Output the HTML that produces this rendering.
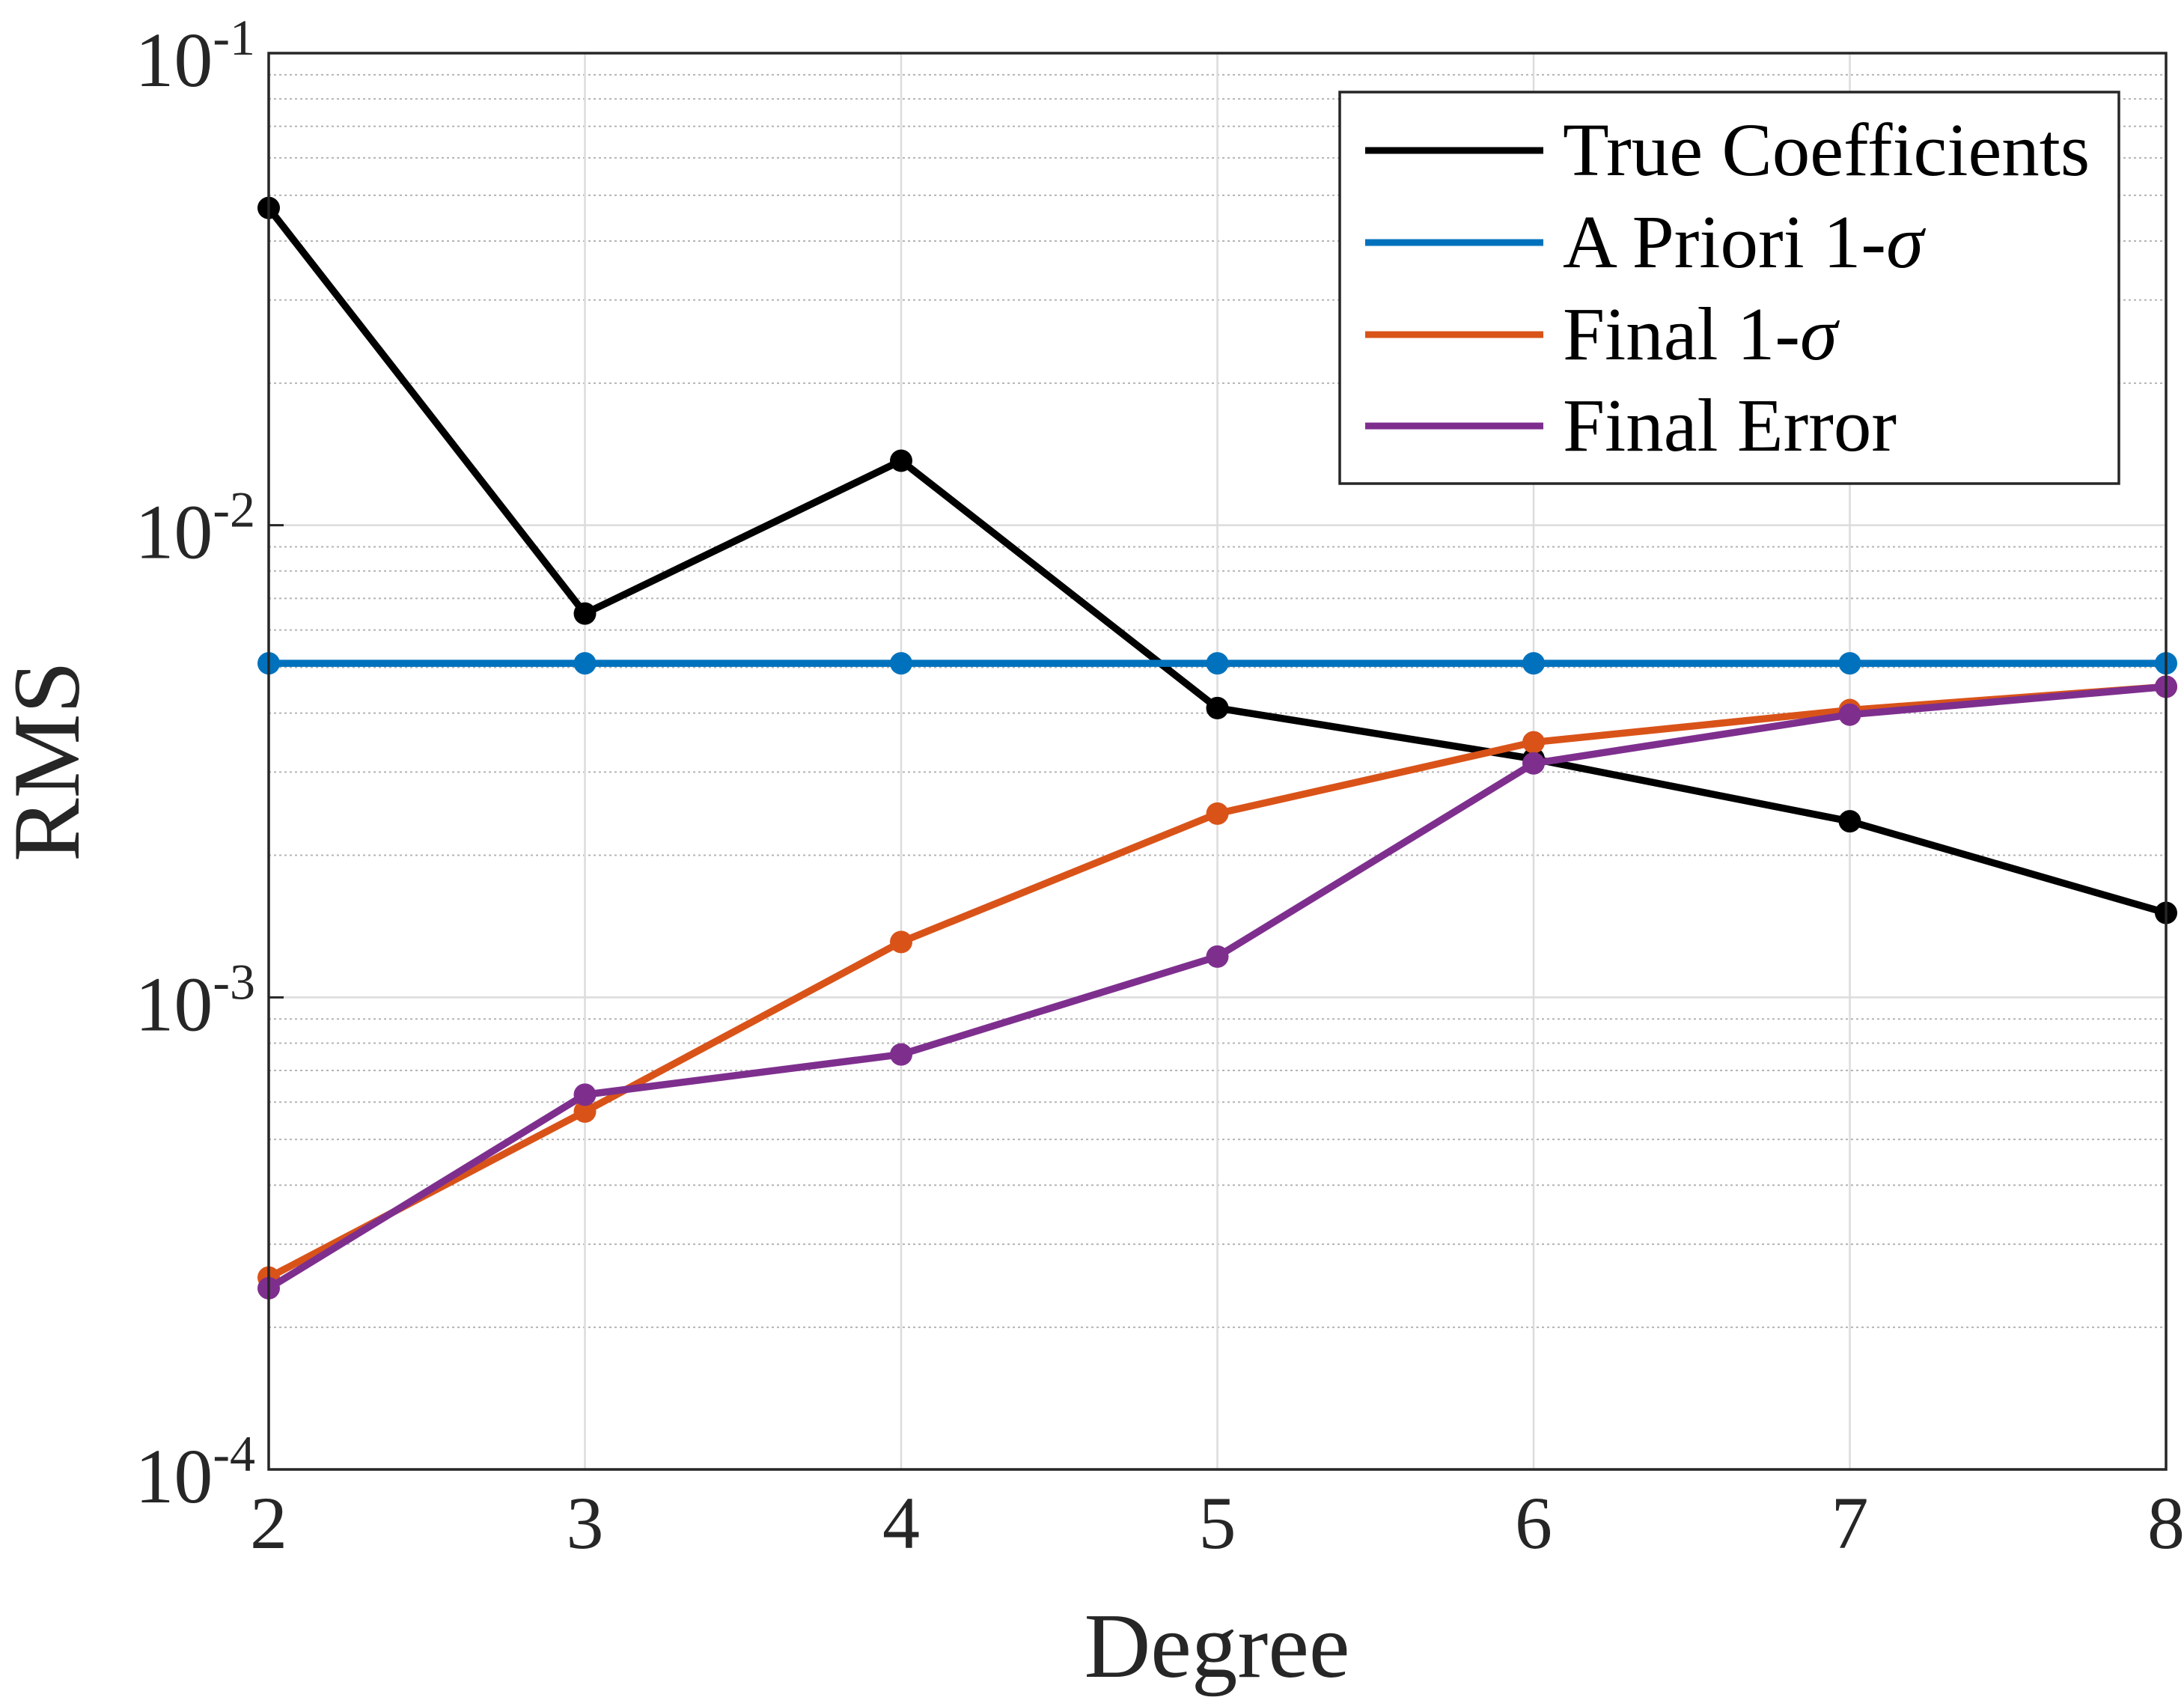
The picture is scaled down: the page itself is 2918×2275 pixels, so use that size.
<!DOCTYPE html>
<html><head><meta charset="utf-8"><style>
body{margin:0;background:#fff}
svg{display:block;font-family:"Liberation Serif",serif}
</style></head><body>
<svg id="chart" width="2918" height="2275" viewBox="0 0 2918 2275" xmlns="http://www.w3.org/2000/svg">
<rect width="2918" height="2275" fill="#fff"/>
<g id="grid"></g>
<g id="series"></g>
<g id="axes"></g>
<text transform="translate(105,1017) rotate(-90)" text-anchor="middle" font-size="127" fill="#262626">RMS</text>
<text x="1626" y="2240" text-anchor="middle" font-size="123" fill="#262626">Degree</text>
<g>
<rect x="1790" y="123" width="1041" height="523" fill="#fff" stroke="#262626" stroke-width="3.5"/>
<line x1="1824" x2="2062" y1="201" y2="201" stroke="#000" stroke-width="9"/>
<text x="2088" y="234" font-size="101" fill="#000">True Coefficients</text>
<line x1="1824" x2="2062" y1="324" y2="324" stroke="#0072BD" stroke-width="9"/>
<text x="2088" y="357" font-size="101" fill="#000">A Priori 1-<tspan font-style="italic">σ</tspan></text>
<line x1="1824" x2="2062" y1="447" y2="447" stroke="#D95319" stroke-width="9"/>
<text x="2088" y="480" font-size="101" fill="#000">Final 1-<tspan font-style="italic">σ</tspan></text>
<line x1="1824" x2="2062" y1="569" y2="569" stroke="#7E2F8E" stroke-width="9"/>
<text x="2088" y="602" font-size="101" fill="#000">Final Error</text>
</g>
</svg>
<script>
const degrees=[2,3,4,5,6,7,8];
const trueCoeffs=[0.047,0.0065,0.0137,0.0041,0.0032,0.00236,0.00151];
const aPriori=[0.0051,0.0051,0.0051,0.0051,0.0051,0.0051,0.0051];
const finalSigma=[0.000255,0.000573,0.00131,0.00245,0.00347,0.00406,0.00455];
const finalError=[0.000242,0.000622,0.000757,0.00122,0.00313,0.00397,0.00455];
const yTickExps=[-1,-2,-3,-4];
const xTicks=[2,3,4,5,6,7,8];

const L=359,R=2894,T=71,B=1963;
const xs=d=>L+(d-2)/(8-2)*(R-L);
const ys=v=>T+(-1-Math.log10(v))/3*(B-T);
const NS="http://www.w3.org/2000/svg";
function mk(tag,attrs,parent){const e=document.createElementNS(NS,tag);for(const k in attrs)e.setAttribute(k,attrs[k]);parent.appendChild(e);return e;}
const grid=document.getElementById('grid'),axes=document.getElementById('axes'),ser=document.getElementById('series');
for(let e=-4;e<-1;e++){for(let m=2;m<=9;m++){const y=ys(m*Math.pow(10,e));
const l=mk('line',{x1:L,x2:R,y1:y,y2:y,stroke:'#b4b4b4','stroke-width':2,'stroke-dasharray':'3 4'},grid);

}}
yTickExps.forEach(e=>{const y=ys(Math.pow(10,e));
const l=mk('line',{x1:L,x2:R,y1:y,y2:y,stroke:'#dcdcdc','stroke-width':2.5},grid);


const t=mk('text',{x:L-18,y:y+44,'text-anchor':'end','font-size':104,fill:'#262626'},axes);


t.innerHTML='10<tspan dy="-42" font-size="68">'+e+'</tspan>';
const k=mk('line',{x1:L,x2:L+20,y1:y,y2:y,stroke:'#262626','stroke-width':3},axes);

});
xTicks.forEach(d=>{const x=xs(d);
const l=mk('line',{x1:x,x2:x,y1:T,y2:B,stroke:'#dcdcdc','stroke-width':2.5},grid);


const t=mk('text',{x:x,y:B+105,'text-anchor':'middle','font-size':100,fill:'#262626'},axes);


t.textContent=d;});
const frame=mk('rect',{x:L,y:T,width:R-L,height:B-T,fill:'none',stroke:'#262626','stroke-width':3.5},axes);


function series(vals,color,name){
const g=mk('g',{},ser);


const p=mk('polyline',{points:vals.map((v,i)=>xs(degrees[i])+','+ys(v)).join(' '),fill:'none',stroke:color,'stroke-width':9.5,'stroke-linejoin':'round'},g);


vals.forEach((v,i)=>{const c=mk('circle',{cx:xs(degrees[i]),cy:ys(v),r:15,fill:color},g);

});}
series(trueCoeffs,'#000','true-coefficients');
series(aPriori,'#0072BD','a-priori-sigma');
series(finalSigma,'#D95319','final-sigma');
series(finalError,'#7E2F8E','final-error');
</script>
</body></html>
